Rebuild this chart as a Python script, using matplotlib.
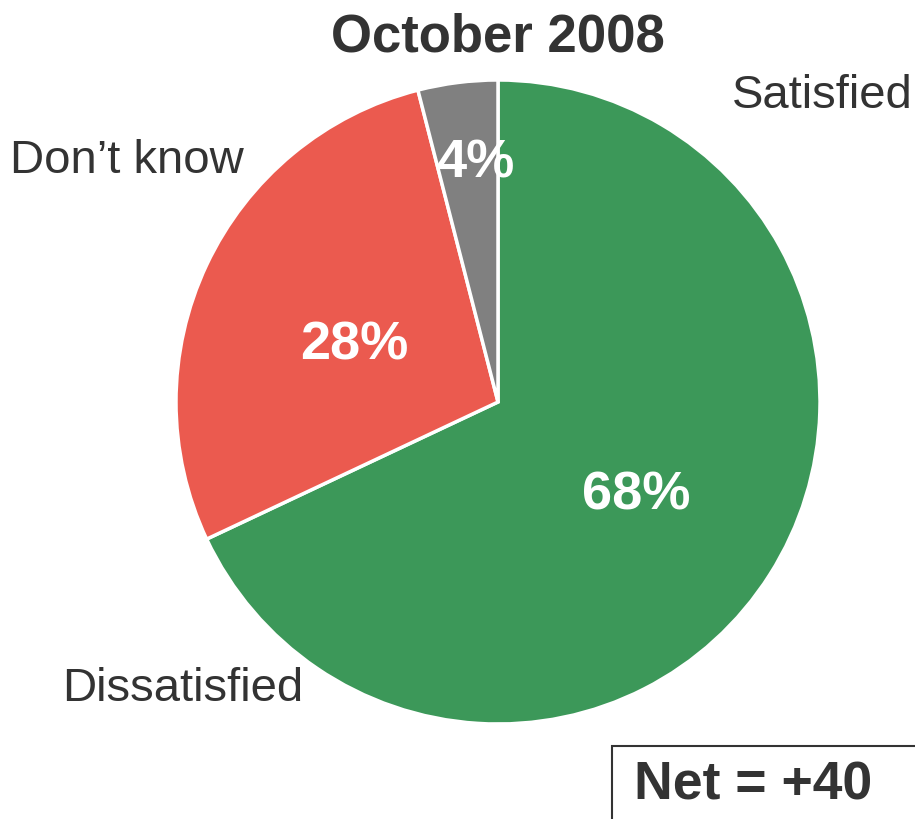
import matplotlib.pyplot as plt
from matplotlib.patches import Rectangle

plt.rcParams['font.family'] = ['Liberation Sans', 'DejaVu Sans']

shares = [68, 28, 4]
pct_labels = ['68%', '28%', '4%']
slice_colors = ['#3c9859', '#eb5a4f', '#808080']
# the outer labels as printed in the original
outer_labels = ['Satisfied', 'Don\u2019t know', 'Dissatisfied']
title = 'October 2008'
net_text = 'Net = +40'

W, H = 915, 819
fig = plt.figure(figsize=(W / 100, H / 100), dpi=100)
ax = fig.add_axes([0, 0, 1, 1])


def Y(y):
    return H - y


ax.pie(shares, colors=slice_colors, startangle=90, counterclock=False,
       center=(498, Y(402)), radius=322,
       wedgeprops=dict(edgecolor='white', linewidth=2.5))
ax.set_xlim(0, W)
ax.set_ylim(0, H)
ax.set_aspect('equal')
ax.axis('off')

dark = '#333333'
for txt, (x, y) in zip(pct_labels, [(636, 495), (354, 345), (475, 164)]):
    ax.text(x, Y(y), txt, color='white', fontsize=39, fontweight='bold',
            ha='center', va='center')

ax.text(913, Y(96), outer_labels[0], color=dark, fontsize=34, ha='right', va='center')
ax.text(10, Y(161), outer_labels[1], color=dark, fontsize=34, ha='left', va='center')
ax.text(62, Y(689), outer_labels[2], color=dark, fontsize=34, ha='left', va='center')

ax.text(498, Y(37), title, color=dark, fontsize=38, fontweight='bold',
        ha='center', va='center')

ax.add_patch(Rectangle((612, Y(830)), 320, 84, facecolor='white',
                       edgecolor=dark, linewidth=1.5, clip_on=False))
ax.text(634, Y(785), net_text, color=dark, fontsize=38.5, fontweight='bold',
        ha='left', va='center')

fig.savefig('out.png', dpi=100)
